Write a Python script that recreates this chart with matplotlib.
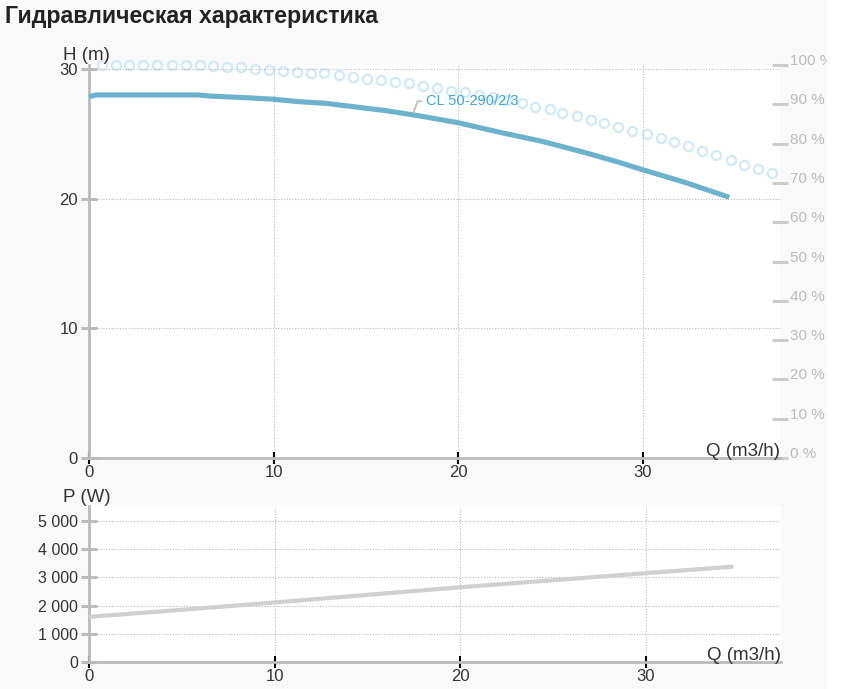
import matplotlib
matplotlib.use("Agg")
import matplotlib.pyplot as plt
from matplotlib.patches import Rectangle

plt.rcParams['font.family'] = ['Liberation Sans', 'DejaVu Sans']

# head curve H(Q)
q_head = [0, 0.4, 5.9, 6.5, 8.5, 10, 11.4, 12.8, 14.3, 16.1, 17.9, 20, 22.3, 24.6, 27.0, 28.6, 30.0, 32.3, 34.7]
h_head = [27.86, 27.99, 27.99, 27.91, 27.78, 27.66, 27.47, 27.35, 27.09, 26.78, 26.38, 25.85, 25.1, 24.4, 23.5, 22.85, 22.23, 21.25, 20.1]

# efficiency (%), circles
q_eff = [0.72, 1.46, 2.18, 2.94, 3.67, 4.48, 5.26, 6.01, 6.74, 7.50, 8.22, 9.00, 9.77, 10.53,
         11.29, 12.03, 12.74, 13.57, 14.33, 15.05, 15.81, 16.59, 17.36, 18.12, 18.85, 19.62,
         20.38, 21.15, 21.91, 22.67, 23.45, 24.17, 24.97, 25.65, 26.43, 27.19, 27.93, 28.69,
         29.45, 30.23, 31.00, 31.72, 32.48, 33.24, 33.98, 34.78, 35.52, 36.28, 37.03]
eff = [100.0, 100.0, 100.0, 100.0, 100.0, 100.0, 100.0, 100.0, 99.8, 99.6, 99.6, 99.0, 98.7, 98.5,
       98.3, 98.0, 97.9, 97.5, 96.9, 96.4, 96.2, 95.8, 95.3, 94.7, 94.1, 93.5,
       93.1, 92.4, 91.8, 91.1, 90.3, 89.4, 88.7, 87.7, 87.0, 86.0, 85.2, 84.1,
       83.2, 82.4, 81.3, 80.3, 79.4, 78.1, 77.1, 75.8, 74.6, 73.5, 72.4]

# power curve P(Q)
q_pow = [0, 5, 10, 15, 20, 25, 30, 34.7]
p_pow = [1600, 1850, 2110, 2380, 2650, 2900, 3150, 3380]

x_ticks = [0, 10, 20, 30]
h_ticks = [0, 10, 20, 30]
eff_ticks = [0, 10, 20, 30, 40, 50, 60, 70, 80, 90, 100]
eff_labels = [f"{v} %" for v in eff_ticks]
p_ticks = [0, 1000, 2000, 3000, 4000, 5000]
p_labels = ["0", "1 000", "2 000", "3 000", "4 000", "5 000"]

pump_name = "CL 50-290/2/3"
title = "Гидравлическая характеристика"

W, H = 843, 689
fig = plt.figure(figsize=(W / 100, H / 100), dpi=100, facecolor='#f9f9f9')

ax = fig.add_axes([89 / W, 1 - 458 / H, (780 - 89) / W, (458 - 65) / H])
axp = fig.add_axes([89 / W, 1 - 662 / H, (781 - 89) / W, (662 - 506) / H])
ax2 = ax.twinx()


def style(a, yt, ylabels):
    a.set_facecolor('white')
    for s in ['top', 'right']:
        a.spines[s].set_visible(False)
    for s in ['left', 'bottom']:
        a.spines[s].set_color('#bbbbbb')
        a.spines[s].set_linewidth(2)
    a.set_xticks(x_ticks)
    a.set_yticks(yt)
    a.set_yticklabels(ylabels)
    a.tick_params(axis='x', direction='inout', length=8, width=1.5, color='black',
                  labelsize=12, labelcolor='#333333', pad=1)
    a.tick_params(axis='y', direction='inout', length=12, width=2.2, color='#bbbbbb',
                  labelsize=12, labelcolor='#333333', pad=2)
    a.grid(True, color='#bbbbbb', linestyle=(0, (1, 1.5)), linewidth=0.8)
    a.set_axisbelow(True)


style(ax, h_ticks, [str(v) for v in h_ticks])
ax.set_xlim(0, 37.45)
ax.set_ylim(0, 30.3)

style(axp, p_ticks, p_labels)
axp.tick_params(axis='y', labelsize=11.5)
axp.set_xlim(0, 37.27)
axp.set_ylim(0, 5530)

# efficiency axis
ax2.set_ylim(0, 100)
for s in ax2.spines.values():
    s.set_visible(False)
ax2.set_yticks(eff_ticks)
ax2.set_yticklabels(eff_labels)
ax2.tick_params(axis='y', direction='inout', length=12, width=2.2, color='#cccccc',
                labelsize=11, labelcolor='#bbbbbb', pad=1)
plt.setp(ax2.get_yticklabels(), va='baseline')

ax2.plot(q_eff, eff, 'o', ms=6.6, mfc='none', mec='#d3eaf6', mew=1.7, clip_on=False, zorder=1)
ax.set_zorder(ax2.get_zorder() + 1)
ax2.patch.set_visible(False)
ax.set_facecolor('none')
# white plot area under everything
fig.patches.append(Rectangle((89 / W, 1 - 458 / H), (780 - 89) / W, (458 - 65) / H,
                             transform=fig.transFigure, facecolor='white', edgecolor='none', zorder=-1))

ax.plot(q_head, h_head, color='#6cb2cd', lw=3.7, solid_capstyle='butt', zorder=3)
ax.annotate(pump_name, xy=(17.55, 26.5), xytext=(18.25, 27.5), color='#3fa6d8', fontsize=10.5,
            ha='left', va='center',
            arrowprops=dict(arrowstyle='-', color='#bbbbbb', lw=1.3, shrinkA=1, shrinkB=1,
                            connectionstyle='angle,angleA=0,angleB=70,rad=0'))

axp.plot(q_pow, p_pow, color='#d0d0d0', lw=3, solid_capstyle='butt', zorder=3)

for a in (ax, axp):
    a.annotate('Q (m3/h)', xy=(1, 0), xycoords='axes fraction', xytext=(0, 2),
               textcoords='offset pixels', ha='right', va='baseline', fontsize=13.5, color='#333333')

fig.text(63 / W, 1 - 56 / H, 'H (m)', fontsize=13.5, color='#333333', va='center', ha='left')
fig.text(63 / W, 1 - 497 / H, 'P (W)', fontsize=13.5, color='#333333', va='center', ha='left')
fig.text(5 / W, 1 - 16 / H, title, fontsize=16.7, fontweight='bold', color='#222222',
         va='center', ha='left')

# white strip at the right edge (clips the last labels)
fig.patches.append(Rectangle((827 / W, 0), 1 - 827 / W, 1, transform=fig.transFigure,
                             facecolor='white', edgecolor='none', zorder=10))

fig.savefig('out.png', dpi=100, facecolor=fig.get_facecolor())
